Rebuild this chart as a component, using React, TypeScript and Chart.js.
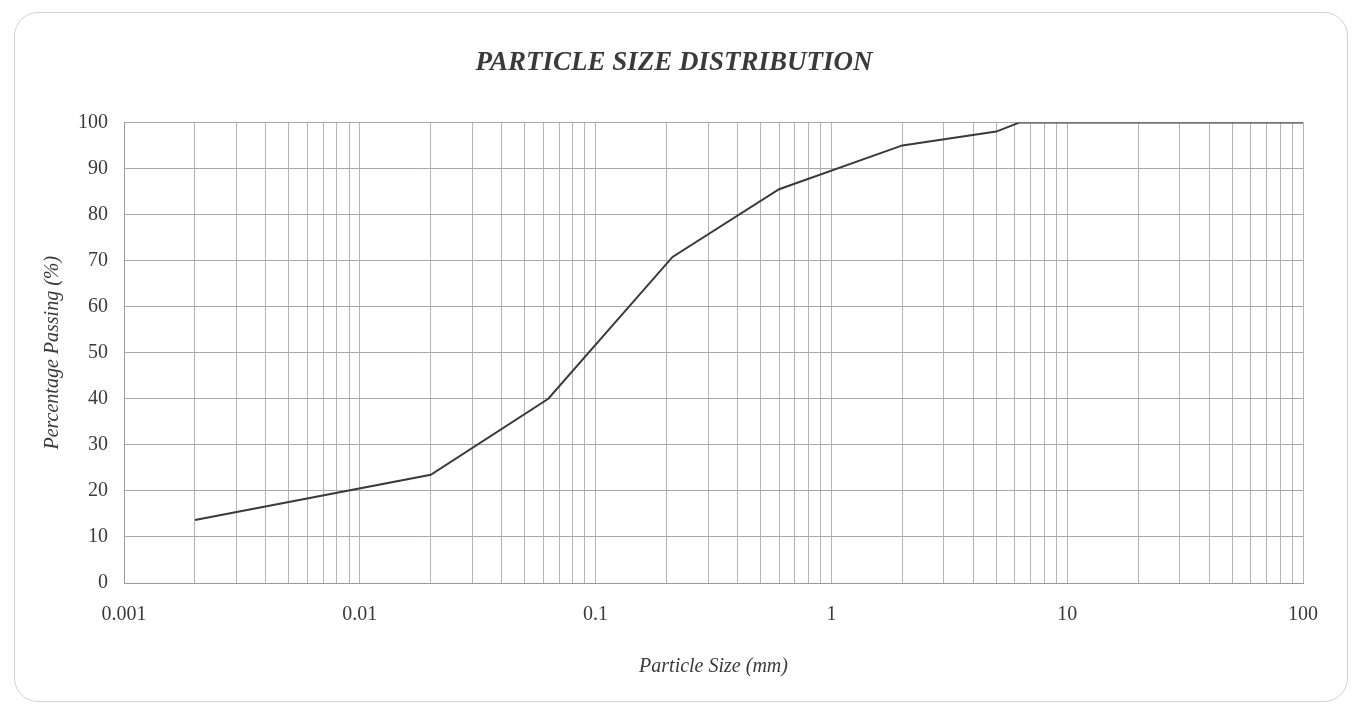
import React, { useEffect, useRef } from 'react';
import { Chart, registerables } from 'chart.js';

Chart.register(...registerables);

// ---- data ----
const particleSizes = [0.002, 0.02, 0.063, 0.212, 0.6, 2, 5, 6.3, 100];
const percentPassing = [13.7, 23.5, 40, 70.8, 85.5, 95, 98, 100, 100];
const decadeTicks = [0.001, 0.01, 0.1, 1, 10, 100];
const decadeLabels = ['0.001', '0.01', '0.1', '1', '10', '100'];
const minorMultipliers = [1, 2, 3, 4, 5, 6, 7, 8, 9];
const yMin = 0;
const yMax = 100;
const yStep = 10;

const chartTitle = 'PARTICLE SIZE DISTRIBUTION';
const xTitle = 'Particle Size (mm)';
const yTitle = 'Percentage Passing (%)';

const SERIF = '"Liberation Serif", "Times New Roman", serif';

export default function App() {
  const canvasRef = useRef<HTMLCanvasElement | null>(null);

  useEffect(() => {
    const canvas = canvasRef.current;
    if (!canvas) return;

    const gridValues: number[] = [];
    decadeTicks.forEach((d, i) => {
      if (i === decadeTicks.length - 1) {
        gridValues.push(d);
      } else {
        minorMultipliers.forEach((m) => gridValues.push(parseFloat((d * m).toPrecision(6))));
      }
    });

    const labelFor = (v: number) => {
      const idx = decadeTicks.findIndex((d) => Math.abs(Math.log10(d) - Math.log10(v)) < 1e-6);
      return idx >= 0 ? decadeLabels[idx] : '';
    };

    const chart = new Chart(canvas, {
      type: 'line',
      data: {
        datasets: [
          {
            data: particleSizes.map((x, i) => ({ x, y: percentPassing[i] })),
            borderColor: '#3a3a3a',
            borderWidth: 2,
            pointRadius: 0,
            tension: 0,
            fill: false,
          },
        ],
      },
      options: {
        responsive: false,
        animation: false,
        layout: { padding: { left: 45, right: 50, top: 0, bottom: 0 } },
        plugins: {
          legend: { display: false },
          tooltip: { enabled: false },
          title: {
            display: true,
            text: chartTitle,
            color: '#3a3a3a',
            font: { family: SERIF, size: 27, weight: 'bold', style: 'italic', lineHeight: 1.2 },
            padding: { top: 47, bottom: 43 },
          },
        },
        scales: {
          x: {
            type: 'logarithmic',
            min: decadeTicks[0],
            max: decadeTicks[decadeTicks.length - 1],
            afterBuildTicks: (scale: any) => {
              scale.ticks = gridValues.map((v) => ({ value: v }));
            },
            afterFit: (scale: any) => {
              scale.height = 125;
            },
            ticks: {
              autoSkip: false,
              maxRotation: 0,
              minRotation: 0,
              padding: 20,
              color: '#3a3a3a',
              font: { family: SERIF, size: 20 },
              callback: (value: any) => labelFor(Number(value)),
            },
            grid: { color: '#b4b4b4', lineWidth: 1, drawTicks: false },
            border: { display: true, color: '#9a9a9a', width: 1 },
            title: {
              display: true,
              text: xTitle,
              color: '#3a3a3a',
              font: { family: SERIF, size: 20, style: 'italic', lineHeight: 1.2 },
              padding: { top: 29, bottom: 29 },
            },
          },
          y: {
            min: yMin,
            max: yMax,
            afterFit: (scale: any) => {
              scale.width = 79;
            },
            ticks: {
              stepSize: yStep,
              padding: 16,
              color: '#3a3a3a',
              font: { family: SERIF, size: 20 },
            },
            grid: { color: '#a8a8a8', lineWidth: 1, drawTicks: false },
            border: { display: true, color: '#9a9a9a', width: 1 },
            title: {
              display: true,
              text: yTitle,
              color: '#3a3a3a',
              font: { family: SERIF, size: 20, style: 'italic', lineHeight: 1.2 },
              padding: { top: -4, bottom: -4 },
            },
          },
        },
      },
    } as any);

    return () => {
      chart.destroy();
    };
  }, []);

  return (
    <div style={{ position: 'fixed', left: 0, top: 0, width: 1353, height: 708, background: '#ffffff' }}>
      <div
        style={{
          position: 'absolute',
          left: 14,
          top: 12,
          width: 1334,
          height: 690,
          border: '1.5px solid #d2d2d2',
          borderRadius: 24,
          boxSizing: 'border-box',
        }}
      />
      <canvas
        ref={canvasRef}
        width={1353}
        height={708}
        style={{ position: 'absolute', left: 0, top: 0, width: 1353, height: 708 }}
      />
    </div>
  );
}
